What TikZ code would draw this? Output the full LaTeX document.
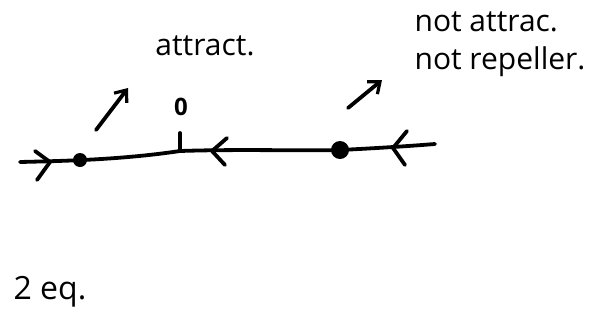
\documentclass[tikz,border=0pt]{standalone}
\usepackage{fontspec}
\setmainfont{Open Sans}
\usetikzlibrary{arrows.meta}
\begin{document}
\begin{tikzpicture}[
    x=0.5pt, y=-0.5pt,
    ink/.style={
        line width=1.9pt,
        line cap=round,
        line join=round
    },
    fixpt/.style={
        circle,
        fill=black,
        inner sep=0pt
    },
    flowtip/.style={
        ink
    },
    hint/.style={
        ink,
        -{Straight Barb[length=5pt,width=8pt,line width=1.6pt]}
    },
    note/.style={
        font=\fontsize{15}{17}\selectfont,
        inner sep=0pt,
        align=left
    }
]
\useasboundingbox (0,0) rectangle (613,332);

% Phase line
\coordinate (lstart) at (20,162);
\coordinate (lend) at (435,144);
\draw[ink] (lstart) .. controls (60,161) and (120,160) .. (180,151)
    .. controls (240,149) and (300,151) .. (340,150)
    .. controls (380,148) and (410,146) .. (lend);

% Equilibria
\node[fixpt, minimum size=7pt] (eqleft) at (80,160) {};
\node[fixpt, minimum size=9pt] (eqright) at (340,150) {};

% Tick at zero
\coordinate (ticktop) at (180,133);
\coordinate (tickbot) at (180,151);
\draw[ink] (ticktop) -- (tickbot);
\node[note] (zero) at (181,107) {\fontsize{12}{13}\selectfont\bfseries 0};

% Flow direction marks
\draw[flowtip] (35,151) -- (50,162) -- (37,180);
\draw[flowtip] (227,138) -- (212,151) -- (225,165);
\draw[flowtip] (407,131) -- (393,148) -- (405,165);

% Labels with pointers
\coordinate (hintA) at (96,130);
\coordinate (hintB) at (348,108);
\node[note] (attr) at (205,46) {attract.};
\node[note, font=\fontsize{15}{19}\selectfont] (neutral) at (500,44) {not attrac.\\not repeller.};
\draw[hint] (hintA) -- (128,88);
\draw[hint] (hintB) -- (382,80);

% Count
\node[note, font=\fontsize{16}{18}\selectfont] (count) at (50,292) {2 eq.};

\end{tikzpicture}
\end{document}
